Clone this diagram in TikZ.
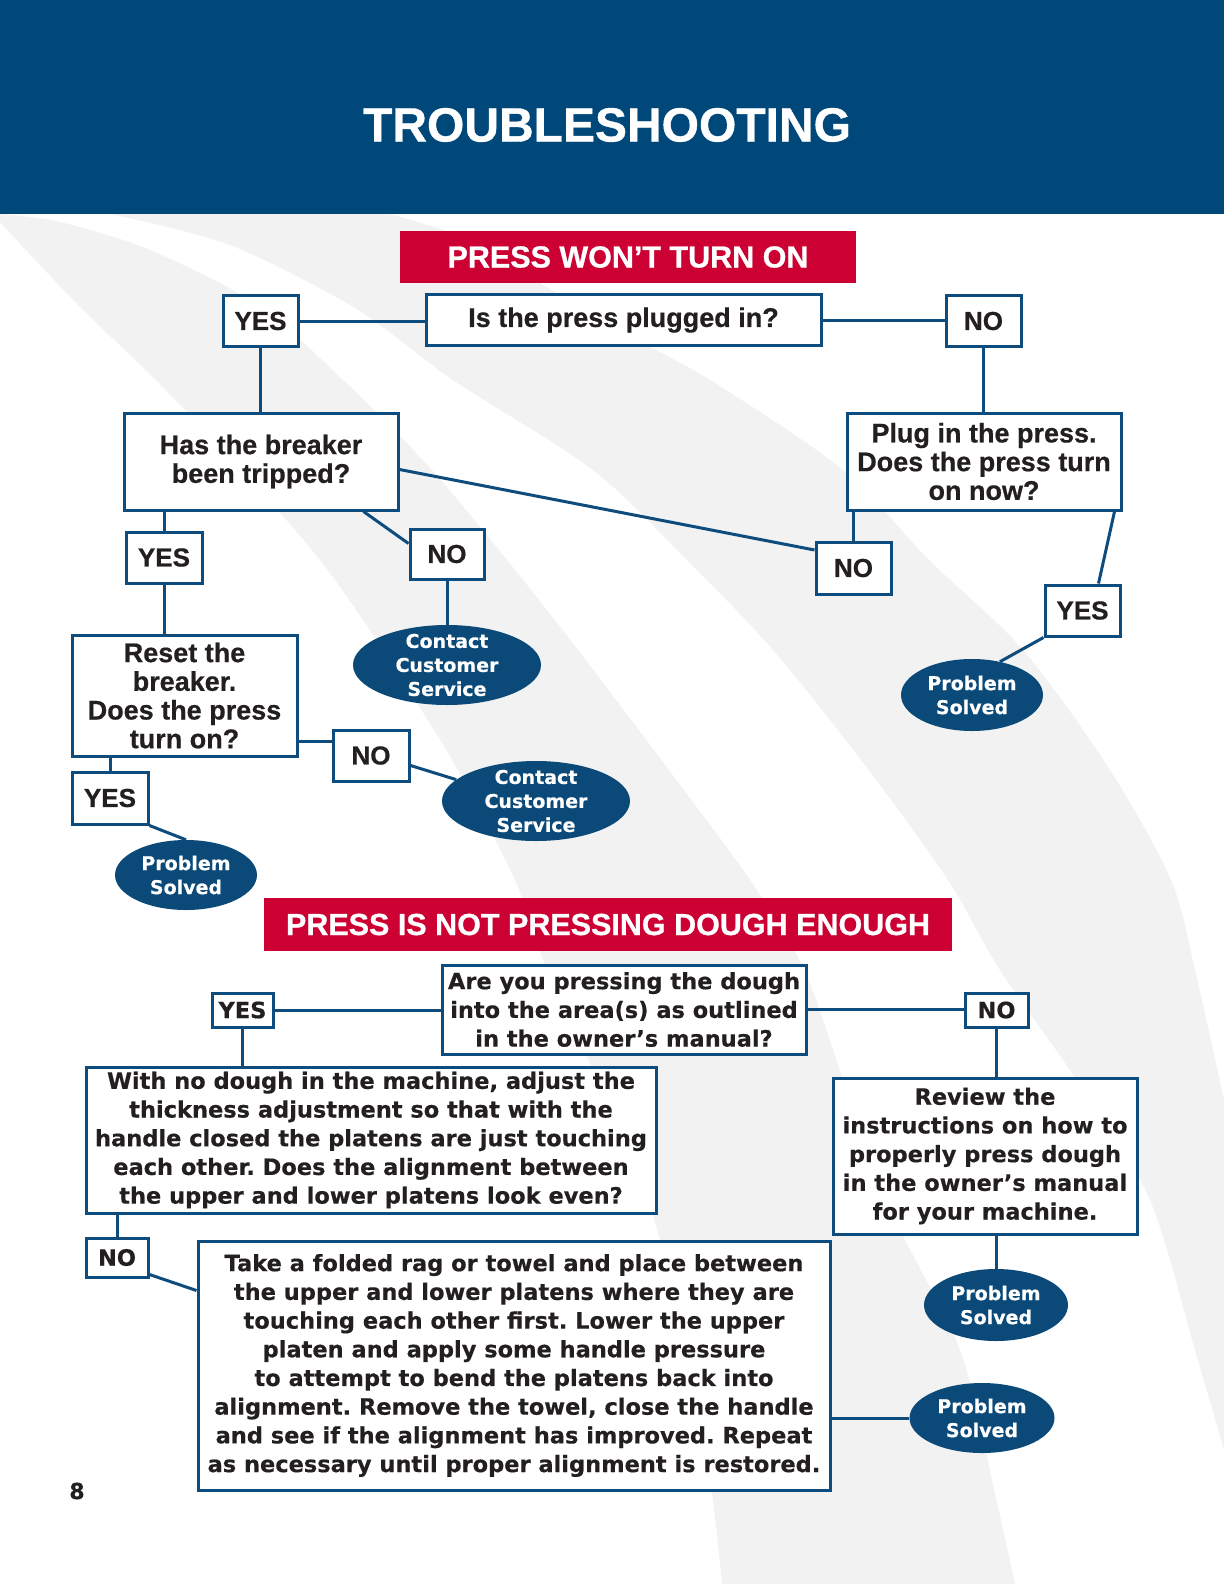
\documentclass[tikz,border=0pt]{standalone}
\usepackage{fontspec}
\setmainfont{Liberation Sans}
\newfontfamily\lsans{Liberation Sans}[FakeBold=0.6]
\newfontfamily\lsanstitle{Liberation Sans}[FakeBold=0.8]
\newfontfamily\dvsans{DejaVu Sans}[FakeBold=0.4]
\usetikzlibrary{shapes.geometric,calc}
\definecolor{hdrblue}{HTML}{00477A}
\definecolor{lineblue}{HTML}{0E4C7D}
\definecolor{ellblue}{HTML}{0B4A78}
\definecolor{bannerred}{HTML}{CC0033}
\definecolor{txtc}{HTML}{231F20}
\definecolor{bandgray}{HTML}{F2F2F2}
\tikzset{
  boxA/.style={draw=lineblue, line width=3pt, fill=white, inner sep=0pt, align=center, text=txtc,
    font=\lsans\bfseries\fontsize{27}{28.7}\selectfont},
  ansA/.style={boxA, font=\lsans\bfseries\fontsize{26}{28}\selectfont},
  boxB/.style={draw=lineblue, line width=3pt, fill=white, inner sep=0pt, align=center, text=txtc,
    font=\dvsans\bfseries\fontsize{22.5}{28.7}\selectfont},
  ovalshape/.style={ellipse, fill=ellblue, draw=none, inner sep=0pt},
  ovaltext/.style={text=white, align=center, inner sep=0pt,
    font=\dvsans\bfseries\fontsize{19}{24}\selectfont},
  banner/.style={fill=bannerred, text=white, inner sep=0pt,
    font=\lsanstitle\bfseries\fontsize{30.5}{32}\selectfont},
  link/.style={draw=lineblue, line width=3pt}
}
\begin{document}
\frenchspacing
\begin{tikzpicture}[x=1pt,y=-1pt]
\useasboundingbox (0,0) rectangle (1224,1584);
\fill[white] (0,0) rectangle (1224,1584);
% background bands
\fill[bandgray] plot[smooth] coordinates {(0,222) (78,305) (156,380) (240,468) (320,560) (383,650) (455,765) (515,880) (547,970) (600,1085) (648,1200) (688,1350) (712,1494) (722,1584)}
  -- plot[smooth] coordinates {(1015,1584) (995,1494) (960,1350) (885,1200) (845,1085) (804,970) (750,880) (665,765) (578,650) (507,560) (430,468) (343,380) (258,305) (150,250) (60,222) (0,214)} -- cycle;
\fill[bandgray] plot[smooth] coordinates {(110,214) (230,245) (355,308) (453,380) (593,470) (687,560) (773,650) (865,765) (948,880) (1000,970) (1080,1085) (1150,1200) (1195,1350) (1224,1450)}
  -- (1224,1100) -- plot[smooth] coordinates {(1224,1100) (1195,970) (1171,880) (1110,770) (1023,650) (929,560) (843,470) (710,380) (618,330) (540,283) (470,240) (390,214)} -- cycle;
% header
\fill[hdrblue] (0,0) rectangle (1224,214);
\node[text=white, font=\lsanstitle\bfseries\fontsize{48}{50}\selectfont] (title) at (607,125) {TROUBLESHOOTING};
% section 1
\node[banner, minimum width=456pt, minimum height=52pt] (ban1) at (628,257) {PRESS WON’T TURN ON};
\node[boxA, minimum width=395pt, minimum height=51pt] (Q1) at (623.5,320) {Is the press plugged in?};
\node[ansA, minimum width=75pt, minimum height=51pt] (YES1) at (260.5,321) {YES};
\node[ansA, minimum width=75pt, minimum height=51pt] (NO1) at (983.5,321) {NO};
\node[boxA, minimum width=274pt, minimum height=97pt] (B2) at (261,461.5) {Has the breaker\\been tripped?};
\node[boxA, minimum width=274pt, minimum height=97pt] (B3) at (984,461.5) {Plug in the press.\\Does the press turn\\on now?};
\node[ansA, minimum width=76pt, minimum height=51pt] (YES2) at (164,557.5) {YES};
\node[ansA, minimum width=74pt, minimum height=50pt] (NO2) at (447,554) {NO};
\node[ansA, minimum width=75pt, minimum height=52pt] (NO3) at (853.5,568) {NO};
\node[ansA, minimum width=75pt, minimum height=51pt] (YES3) at (1082.5,610.5) {YES};
\node[ovalshape, minimum width=142pt, minimum height=72pt] (PS1) at (972,695) {};
\node[ovaltext] (PS1t) at (PS1) {Problem\\Solved};
\node[ovalshape, minimum width=188pt, minimum height=80pt] (CCS1) at (447,665) {};
\node[ovaltext] (CCS1t) at (CCS1) {Contact\\Customer\\Service};
\node[boxA, minimum width=225pt, minimum height=121pt] (B4) at (184.5,695.5) {Reset the\\breaker.\\Does the press\\turn on?};
\node[ansA, minimum width=76pt, minimum height=51pt] (NO4) at (371,755.5) {NO};
\node[ovalshape, minimum width=188pt, minimum height=80pt] (CCS2) at (536,801) {};
\node[ovaltext] (CCS2t) at (CCS2) {Contact\\Customer\\Service};
\node[ansA, minimum width=76pt, minimum height=52pt] (YES4) at (110,798) {YES};
\node[ovalshape, minimum width=142pt, minimum height=70pt] (PS2) at (186,875) {};
\node[ovaltext] (PS2t) at (PS2) {Problem\\Solved};
% connectors section 1
\draw[link] (YES1.east) -- (YES1.east -| Q1.west);
\draw[link] (Q1.east) -- (Q1.east -| NO1.west);
\draw[link] (YES1.south) -- (YES1.south |- B2.north);
\draw[link] (NO1.south) -- (NO1.south |- B3.north);
\draw[link] (YES2.north |- B2.south) -- (YES2.north);
\draw[link] ($(B2.south east)+(-36,0)$) -- ($(NO2.north west)+(0,16)$);
\draw[link] ($(B2.east)+(0,8)$) -- ($(NO3.west)+(0,-18)$);
\draw[link] (NO3.north |- B3.south) -- (NO3.north);
\draw[link] ($(B3.south east)+(-8,0)$) -- ($(YES3.north east)+(-23,0)$);
\draw[link] (YES3.south west) -- (PS1.50);
\draw[link] (NO2.south) -- (CCS1.north);
\draw[link] (YES2.south) -- (YES2.south |- B4.north);
\draw[link] ($(B4.east)+(0,45.5)$) -- ($(NO4.west)+(0,-14.5)$);
\draw[link] ($(NO4.east)+(0,10)$) -- (CCS2.165);
\draw[link] (YES4.north |- B4.south) -- (YES4.north);
\draw[link] (YES4.south east) -- (PS2.north);
% section 2
\node[banner, minimum width=688pt, minimum height=53pt] (ban2) at (608,924.5) {PRESS IS NOT PRESSING DOUGH ENOUGH};
\node[boxB, minimum width=364pt, minimum height=89pt] (Q2) at (624,1009.5) {Are you pressing the dough\\into the area(s) as outlined\\in the owner’s manual?};
\node[boxB, minimum width=61pt, minimum height=34pt] (YES5) at (242.5,1010) {YES};
\node[boxB, minimum width=63pt, minimum height=34pt] (NO5) at (996.5,1010) {NO};
\node[boxB, minimum width=570pt, minimum height=146pt] (B5) at (371,1140) {With no dough in the machine, adjust the\\thickness adjustment so that with the\\handle closed the platens are just touching\\each other. Does the alignment between\\the upper and lower platens look even?};
\node[boxB, minimum width=304pt, minimum height=156pt] (B6) at (985,1156) {Review the\\instructions on how to\\properly press dough\\in the owner’s manual\\for your machine.};
\node[ovalshape, minimum width=144pt, minimum height=72pt] (PS3) at (996,1305) {};
\node[ovaltext] (PS3t) at (PS3) {Problem\\Solved};
\node[boxB, minimum width=62pt, minimum height=39pt] (NO6) at (117,1257.5) {NO};
\node[boxB, minimum width=632pt, minimum height=249pt] (B7) at (514,1365.5) {Take a folded rag or towel and place between\\the upper and lower platens where they are\\touching each other first. Lower the upper\\platen and apply some handle pressure\\to attempt to bend the platens back into\\alignment. Remove the towel, close the handle\\and see if the alignment has improved. Repeat\\as necessary until proper alignment is restored.};
\node[ovalshape, minimum width=145pt, minimum height=70pt] (PS4) at (982,1418) {};
\node[ovaltext] (PS4t) at (PS4) {Problem\\Solved};
% connectors section 2
\draw[link] (YES5.east) -- (YES5.east -| Q2.west);
\draw[link] (Q2.east) -- (Q2.east -| NO5.west);
\draw[link] (YES5.south) -- (YES5.south |- B5.north);
\draw[link] (NO5.south) -- (NO5.south |- B6.north);
\draw[link] (PS3.north |- B6.south) -- (PS3.north);
\draw[link] (NO6.north |- B5.south) -- (NO6.north);
\draw[link] ($(NO6.south east)+(0,-4)$) -- ($(B7.west)+(0,-75)$);
\draw[link] (B7.east |- PS4.west) -- (PS4.west);
% page number
\node[text=txtc, font=\dvsans\bfseries\fontsize{22}{24}\selectfont] (pnum) at (77,1491) {8};
\end{tikzpicture}
\end{document}
